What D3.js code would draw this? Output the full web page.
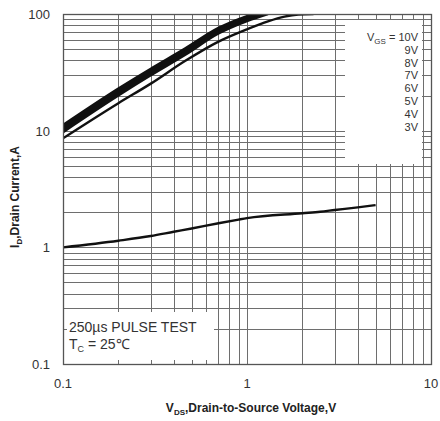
<!DOCTYPE html>
<html>
<head>
<meta charset="utf-8">
<script src="https://cdn.jsdelivr.net/npm/d3@7"></script>
<style>
  body { margin: 0; background: #fff; }
  svg { display: block; font-family: "Liberation Sans", Arial, sans-serif; }
</style>
</head>
<body>
<svg id="chart" width="440" height="421"></svg>
<script>
// Output characteristics
const xTickLabels = ["0.1", "1", "10"];
const yTickLabels = ["0.1", "1", "10", "100"];
const legendLabels = ["10V", "9V", "8V", "7V", "6V", "5V", "4V", "3V"];

// bundle of high-Vgs curves (nearly on top of each other)
const vds10 = [0.1, 0.2, 0.3, 0.46, 0.7, 1.0, 1.08];
const id10  = [11.2, 23, 34, 50.5, 76, 96, 100];
const vds9  = [0.1, 0.2, 0.3, 0.46, 0.7, 1.0, 1.12];
const id9   = [10.9, 22.4, 33.2, 49.5, 74.5, 94.5, 100];
const vds8  = [0.1, 0.2, 0.3, 0.46, 0.7, 1.0, 1.16];
const id8   = [10.6, 21.8, 32.4, 48, 73, 93, 100];
const vds7  = [0.1, 0.2, 0.3, 0.46, 0.7, 1.0, 1.2];
const id7   = [10.3, 21.2, 31.5, 47, 71.5, 91, 100];
const vds6  = [0.1, 0.2, 0.3, 0.46, 0.7, 1.0, 1.25];
const id6   = [10.0, 20.6, 30.7, 46, 70, 89, 100];
const vds5  = [0.1, 0.2, 0.3, 0.46, 0.7, 1.0, 1.3];
const id5   = [9.7, 20, 29.8, 44.5, 68, 87, 100];
const vds4  = [0.1, 0.2, 0.3, 0.46, 0.7, 1.0, 1.3, 1.6, 1.9, 2.3];
const id4   = [8.6, 17.2, 25.3, 39.5, 58, 74, 86.5, 95, 99, 100];
const vds3  = [0.1, 0.2, 0.3, 0.4, 0.5, 0.7, 0.9, 1.0, 2.0, 2.5, 3.0, 4.0, 5.0];
const id3   = [1.0, 1.14, 1.25, 1.36, 1.45, 1.61, 1.73, 1.78, 1.96, 2.02, 2.09, 2.2, 2.3];

const curves = [
    [vds10, id10], [vds9, id9], [vds8, id8], [vds7, id7],
    [vds6, id6], [vds5, id5], [vds4, id4], [vds3, id3]
];

const svg = d3.select('#chart');
const plotLeft = 63, plotRight = 431, plotTop = 14, plotBottom = 364;

const x = d3.scaleLog().domain([0.1, 10]).range([plotLeft, plotRight]);
const y = d3.scaleLog().domain([0.1, 100]).range([plotBottom, plotTop]);

// minor grid values 1..9 per decade
const gridX = [];
const gridY = [];
[0.1, 1].forEach(d => { for (let k = 1; k <= 9; k++) gridX.push(+(d * k).toPrecision(3)); });
[0.1, 1, 10].forEach(d => { for (let k = 1; k <= 9; k++) gridY.push(+(d * k).toPrecision(3)); });

const grid = svg.append('g')
    .attr('stroke', '#6e6e6e')
    .attr('stroke-width', 1)
    .attr('shape-rendering', 'crispEdges');

grid.selectAll('line.v')
    .data(gridX)
    .join('line')
    .attr('class', 'v')
    .attr('x1', d => Math.round(x(d)) + 0.5)
    .attr('x2', d => Math.round(x(d)) + 0.5)
    .attr('y1', plotTop)
    .attr('y2', plotBottom);

grid.selectAll('line.h')
    .data(gridY)
    .join('line')
    .attr('class', 'h')
    .attr('y1', d => Math.round(y(d)) + 0.5)
    .attr('y2', d => Math.round(y(d)) + 0.5)
    .attr('x1', plotLeft)
    .attr('x2', plotRight);

// white boxes behind the annotations
svg.append('rect')
    .attr('x', 345).attr('y', 20)
    .attr('width', 77).attr('height', 144)
    .attr('fill', '#fff');

svg.append('rect')
    .attr('x', 67).attr('y', 312)
    .attr('width', 147).attr('height', 48)
    .attr('fill', '#fff');

// curves
svg.append('clipPath')
    .attr('id', 'plotClip')
    .append('rect')
    .attr('x', plotLeft).attr('y', plotTop)
    .attr('width', plotRight - plotLeft).attr('height', plotBottom - plotTop);

const line = d3.line()
    .x(d => x(d[0]))
    .y(d => y(d[1]))
    .curve(d3.curveMonotoneX);

svg.append('g')
    .attr('clip-path', 'url(#plotClip)')
    .selectAll('path')
    .data(curves.map(c => c[0].map((v, i) => [v, c[1][i]])))
    .join('path')
    .attr('fill', 'none')
    .attr('stroke', '#111')
    .attr('stroke-width', 2.4)
    .attr('d', line);

// frame
svg.append('rect')
    .attr('x', plotLeft + 0.5).attr('y', plotTop + 0.5)
    .attr('width', plotRight - plotLeft).attr('height', plotBottom - plotTop)
    .attr('fill', 'none')
    .attr('stroke', '#555')
    .attr('stroke-width', 1.3);

// tick labels
svg.append('g')
    .selectAll('text')
    .data(xTickLabels)
    .join('text')
    .attr('x', d => x(+d))
    .attr('y', 388)
    .attr('text-anchor', 'middle')
    .attr('font-size', 13)
    .attr('fill', '#333')
    .text(d => d);

svg.append('g')
    .selectAll('text')
    .data(yTickLabels)
    .join('text')
    .attr('x', 50)
    .attr('y', d => y(+d) + 5)
    .attr('text-anchor', 'end')
    .attr('font-size', 13)
    .attr('fill', '#333')
    .text(d => d);

// legend
const legend = svg.append('g')
    .attr('font-size', 11)
    .attr('fill', '#333')
    .attr('text-anchor', 'end');

legend.selectAll('text')
    .data(legendLabels)
    .join('text')
    .attr('x', 418)
    .attr('y', (d, i) => 41 + i * 12.8)
    .each(function(d, i) {
        const t = d3.select(this);
        if (i === 0) {
            t.append('tspan').text('V');
            t.append('tspan').attr('font-size', 8).attr('dy', 3).text('GS');
            t.append('tspan').attr('dy', -3).text(' = ' + d);
        } else {
            t.text(d);
        }
    });

// test conditions
const note = svg.append('g')
    .attr('font-size', 14)
    .attr('fill', '#333');

note.append('text')
    .attr('x', 69).attr('y', 332)
    .text('250\u00b5s PULSE TEST');

const tc = note.append('text')
    .attr('x', 69).attr('y', 349);
tc.append('tspan').text('T');
tc.append('tspan').attr('font-size', 9).attr('dy', 3).text('C');
tc.append('tspan').attr('dy', -3).text(' = 25\u2103');

// axis titles
const xTitle = svg.append('text')
    .attr('x', 251).attr('y', 412)
    .attr('text-anchor', 'middle')
    .attr('font-size', 12)
    .attr('font-weight', 'bold')
    .attr('fill', '#222');
xTitle.append('tspan').text('V');
xTitle.append('tspan').attr('font-size', 8).attr('dy', 3).text('DS');
xTitle.append('tspan').attr('dy', -3).text(',Drain-to-Source Voltage,V');

const yTitle = svg.append('text')
    .attr('transform', 'translate(19,197) rotate(-90)')
    .attr('text-anchor', 'middle')
    .attr('font-size', 12)
    .attr('font-weight', 'bold')
    .attr('fill', '#222');
yTitle.append('tspan').text('I');
yTitle.append('tspan').attr('font-size', 8).attr('dy', 3).text('D');
yTitle.append('tspan').attr('dy', -3).text(',Drain Current,A');
</script>
</body>
</html>
